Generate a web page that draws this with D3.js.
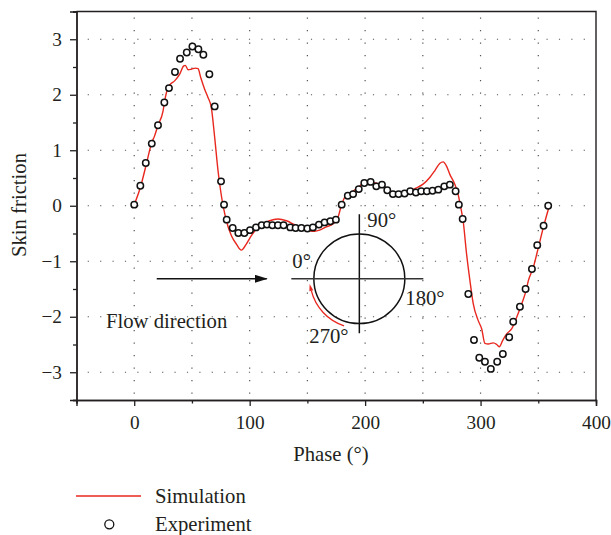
<!DOCTYPE html>
<html>
<head>
<meta charset="utf-8">
<script src="https://cdn.jsdelivr.net/npm/d3@7"></script>
<style>
  html, body { margin: 0; padding: 0; background: #fff; }
  svg { display: block; }
  text { font-family: "Liberation Serif", "Times New Roman", serif; fill: #231f20; }
</style>
</head>
<body>
<div id="chart"></div>
<script>
// experiment (circles)
const expPhase = [0, 5.3, 10, 15.2, 20.6, 26.1, 30.1, 35.3, 39.7, 45.5, 50.4, 55.6, 59.9, 65.1, 69.7,
  75.2, 77.8, 80.1, 85.3, 90.2, 95.4, 100.3, 105.5, 110.4, 115, 119.7, 124.5, 129.4, 135.2, 139.8,
  144.8, 150, 154.8, 160, 164.9, 169.9, 174.7, 179.7, 185, 189.6, 194.5, 199.3, 204.8, 209.7, 214.6,
  219.2, 224.1, 229, 234.2, 239.1, 244, 248.6, 253.5, 258.4, 263.4, 268.6, 273.4, 278.4, 281.2, 284.5,
  289.4, 294.3, 298.9, 303.8, 308.9, 314.4, 319.3, 324.8, 328.3, 334.1, 339, 344.5, 349.1, 354.6, 358.6];
const expFriction = [0.02, 0.36, 0.77, 1.12, 1.45, 1.86, 2.12, 2.41, 2.65, 2.76, 2.87, 2.82, 2.72, 2.37, 1.79,
  0.44, 0.02, -0.25, -0.40, -0.49, -0.49, -0.44, -0.39, -0.35, -0.34, -0.35, -0.35, -0.35, -0.39, -0.40,
  -0.40, -0.41, -0.39, -0.34, -0.30, -0.28, -0.25, 0.02, 0.18, 0.21, 0.30, 0.41, 0.43, 0.35, 0.38,
  0.28, 0.21, 0.21, 0.22, 0.26, 0.24, 0.26, 0.26, 0.27, 0.29, 0.35, 0.38, 0.26, 0.02, -0.24,
  -1.59, -2.42, -2.74, -2.81, -2.94, -2.81, -2.67, -2.37, -2.09, -1.82, -1.50, -1.14, -0.71, -0.36, 0];

// simulation (red line)
const simPhase = [0, 5.3, 10.5, 15.2, 17.5, 20.6, 25, 26.4, 29.3, 31.3, 35, 39.4, 42.9, 44.3, 46.6, 49.5,
  53, 55.3, 57.6, 61, 63.9, 66.8, 69.7, 72.6, 75.5, 77.5, 79.8, 84.2, 88.5, 92.8, 97.1, 101.5, 105.8,
  111.5, 117.3, 124.5, 131.8, 139, 146.1, 151.9, 156.3, 160.6, 166.4, 172.1, 176.5, 179.4, 182.3, 188.1,
  193.9, 200, 205.4, 212.6, 218.4, 224.1, 231.4, 238.6, 244.4, 250.2, 256, 260.3, 264.6, 267.5, 270.4,
  273.3, 277.6, 280.5, 283.4, 284.9, 287.9, 290.8, 293.7, 298, 301, 303.8, 306.7, 311, 314, 316.2,
  319.1, 322.6, 326.9, 331.3, 335.6, 339.4, 341.4, 345.7, 350.1, 354.4, 359.6];
const simFriction = [0.02, 0.33, 0.75, 1.14, 1.25, 1.45, 1.71, 1.89, 2.13, 2.19, 2.25, 2.37, 2.52, 2.53, 2.45, 2.46,
  2.48, 2.47, 2.31, 2.10, 1.95, 1.77, 1.23, 0.63, 0.18, -0.05, -0.27, -0.54, -0.69, -0.80, -0.69, -0.54, -0.42,
  -0.33, -0.27, -0.24, -0.27, -0.34, -0.40, -0.45, -0.46, -0.44, -0.38, -0.33, -0.21, 0, 0.15, 0.24,
  0.33, 0.42, 0.42, 0.39, 0.32, 0.24, 0.22, 0.27, 0.32, 0.39, 0.51, 0.63, 0.76, 0.79, 0.72,
  0.57, 0.39, 0.21, -0.09, -0.27, -0.87, -1.35, -1.77, -2.07, -2.22, -2.48, -2.49, -2.47, -2.50, -2.54,
  -2.43, -2.31, -2.22, -2.01, -1.77, -1.53, -1.35, -1.11, -0.75, -0.39, 0];

const xTicks = [0, 100, 200, 300, 400];
const xMinor = [-50, 50, 150, 250, 350];
const yTicks = [-3, -2, -1, 0, 1, 2, 3];
const yMinor = [-3.5, -2.5, -1.5, -0.5, 0.5, 1.5, 2.5, 3.5];
const xGrid = [0, 50, 100, 150, 200, 250, 300, 350];
const angleLabels = ["0°", "90°", "180°", "270°"];

const width = 611, height = 535;
const red = "#e8271e", ink = "#231f20";
const labelSize = "20.7px";

const x = d3.scaleLinear().domain([-50, 400]).range([76.5, 596]);
const y = d3.scaleLinear().domain([-3.5, 3.5]).range([400, 11.5]);

const svg = d3.select("#chart").append("svg").attr("width", width).attr("height", height);

// dotted grid
svg.append("g").selectAll("line").data(xGrid).join("line")
  .attr("x1", d => x(d)).attr("x2", d => x(d))
  .attr("y1", y(3.5)).attr("y2", y(-3.5))
  .attr("stroke", "#555").attr("stroke-width", 1.2)
  .attr("stroke-dasharray", "1.2,11.3").attr("stroke-dashoffset", -6);
svg.append("g").selectAll("line").data(yTicks).join("line")
  .attr("x1", x(-50)).attr("x2", x(400))
  .attr("y1", d => y(d)).attr("y2", d => y(d))
  .attr("stroke", "#555").attr("stroke-width", 1.2)
  .attr("stroke-dasharray", "1.2,11.2").attr("stroke-dashoffset", -11.2);

// frame (top + right)
svg.append("path")
  .attr("d", `M${x(-50)},${y(3.5)}H${x(400)}V${y(-3.5)}`)
  .attr("fill", "none").attr("stroke", ink).attr("stroke-width", 1.4);

// axes
function styleAxis(g) {
  g.select(".domain").attr("stroke", ink).attr("stroke-width", 1.4);
  g.selectAll(".tick line").attr("stroke", ink).attr("stroke-width", 1.3);
  g.selectAll(".tick text").attr("fill", ink).style("font-size", "19.3px")
    .style("font-family", '"Liberation Serif", serif');
}
svg.append("g").attr("transform", `translate(0,${y(-3.5)})`)
  .call(d3.axisBottom(x).tickValues(xMinor).tickSize(3.5).tickFormat(""))
  .call(styleAxis);
svg.append("g").attr("transform", `translate(0,${y(-3.5)})`)
  .call(d3.axisBottom(x).tickValues(xTicks).tickSize(6).tickPadding(9).tickFormat(d3.format("d")))
  .call(styleAxis);
svg.append("g").attr("transform", `translate(${x(-50)},0)`)
  .call(d3.axisLeft(y).tickValues(yMinor).tickSize(3.5).tickFormat(""))
  .call(styleAxis);
svg.append("g").attr("transform", `translate(${x(-50)},0)`)
  .call(d3.axisLeft(y).tickValues(yTicks).tickSize(6.5).tickPadding(8).tickFormat(d3.format("d")))
  .call(styleAxis);

// axis titles
svg.append("text").attr("x", 331).attr("y", 461).attr("text-anchor", "middle")
  .style("font-size", labelSize).text("Phase (°)");
svg.append("text").attr("transform", "translate(25.5,205) rotate(-90)").attr("text-anchor", "middle")
  .style("font-size", labelSize).text("Skin friction");

// simulation line
const sim = simPhase.map((p, i) => [p, simFriction[i]]);
svg.append("path").datum(sim)
  .attr("d", d3.line().x(d => x(d[0])).y(d => y(d[1])).curve(d3.curveMonotoneX))
  .attr("fill", "none").attr("stroke", red).attr("stroke-width", 1.4);

// experiment circles
const exp = expPhase.map((p, i) => [p, expFriction[i]]);
svg.append("g").selectAll("circle").data(exp).join("circle")
  .attr("cx", d => x(d[0])).attr("cy", d => y(d[1])).attr("r", 3.2)
  .attr("fill", "#fff").attr("stroke", "#111").attr("stroke-width", 1.5);

// inset: flow direction and phase circle
const cx = x(195), cy = y(-1.315);
const defs = svg.append("defs");
defs.append("marker").attr("id", "head").attr("viewBox", "0 0 13 8")
  .attr("refX", 12).attr("refY", 4).attr("markerWidth", 13).attr("markerHeight", 8)
  .attr("markerUnits", "userSpaceOnUse").attr("orient", "auto")
  .append("path").attr("d", "M0,0L13,4L0,8Z").attr("fill", "#111");
svg.append("line").attr("x1", x(19.5)).attr("x2", x(114.8)).attr("y1", cy).attr("y2", cy)
  .attr("stroke", "#111").attr("stroke-width", 1.3).attr("marker-end", "url(#head)");
svg.append("text").attr("x", 106).attr("y", 328).style("font-size", labelSize).text("Flow direction");

svg.append("ellipse").attr("cx", cx).attr("cy", cy).attr("rx", 45.5).attr("ry", 44.8)
  .attr("fill", "none").attr("stroke", "#111").attr("stroke-width", 1.5);
svg.append("line").attr("x1", cx).attr("x2", cx).attr("y1", cy - 64.5).attr("y2", cy + 54.5)
  .attr("stroke", "#111").attr("stroke-width", 1.5);
svg.append("line").attr("x1", cx - 68).attr("x2", cx + 64).attr("y1", cy).attr("y2", cy)
  .attr("stroke", "#333").attr("stroke-width", 1.6);

const rad = Math.PI / 180;
const arcR = 49.5, a0 = 108 * rad, a1 = 166 * rad;
const arc = d3.path();
arc.arc(cx, cy, arcR, a0, a1, false);
svg.append("path").attr("d", arc.toString()).attr("fill", "none")
  .attr("stroke", red).attr("stroke-width", 1.3);
// red arrow tip
const tx = cx + arcR * Math.cos(a1), ty = cy + arcR * Math.sin(a1);
const dx = -Math.sin(a1), dy = Math.cos(a1);
const hl = 7, hw = 2;
svg.append("path")
  .attr("d", `M${tx + dx * hl},${ty + dy * hl}L${tx - dy * hw},${ty + dx * hw}L${tx + dy * hw},${ty - dx * hw}Z`)
  .attr("fill", red);

const labelPos = [[292.3, 268.3], [367.3, 226.7], [405.3, 305], [309.3, 342.7]];
svg.append("g").selectAll("text").data(angleLabels).join("text")
  .attr("x", (d, i) => labelPos[i][0]).attr("y", (d, i) => labelPos[i][1])
  .style("font-size", labelSize).text(d => d);

// legend
svg.append("line").attr("x1", 76).attr("x2", 141).attr("y1", 496).attr("y2", 496)
  .attr("stroke", red).attr("stroke-width", 1.4);
svg.append("text").attr("x", 155).attr("y", 503.3).style("font-size", labelSize).text("Simulation");
svg.append("circle").attr("cx", 109.3).attr("cy", 524.3).attr("r", 4.5)
  .attr("fill", "#fff").attr("stroke", "#111").attr("stroke-width", 1.3);
svg.append("text").attr("x", 155).attr("y", 531).style("font-size", labelSize).text("Experiment");
</script>
</body>
</html>
